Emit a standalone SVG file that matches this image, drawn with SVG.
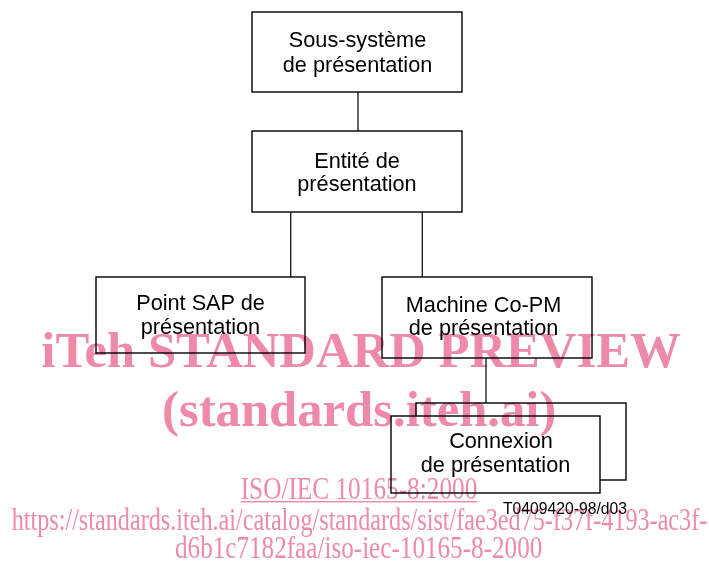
<svg xmlns="http://www.w3.org/2000/svg" width="709" height="563" viewBox="0 0 709 563">
  <style>
    .box { fill: #ffffff; stroke: #000000; stroke-width: 1.4; }
    .lbl { font-family: "Liberation Sans", Arial, sans-serif; font-size: 21.7px; fill: #000000; text-anchor: middle; }
    .ref { font-family: "Liberation Sans", Arial, sans-serif; font-size: 15.7px; fill: #000000; }
    .link { stroke: #222222; stroke-width: 1.4; fill: none; }
    .wm { mix-blend-mode: multiply; fill: #ee8aa8; font-family: "Liberation Serif", "Times New Roman", serif; }
    .wm-big { font-weight: bold; font-size: 50.7px; text-anchor: middle; }
    .wm-small { font-size: 31px; }
  </style>

  <rect x="0" y="0" width="709" height="563" fill="#ffffff"/>

  <!-- connectors -->
  <g id="connectors">
    <line class="link" x1="358" y1="92" x2="358" y2="131"/>
    <line class="link" x1="290.7" y1="212" x2="290.7" y2="277"/>
    <line class="link" x1="422.3" y1="212" x2="422.3" y2="277"/>
    <line class="link" x1="486" y1="358" x2="486" y2="416"/>
  </g>

  <g id="sous-systeme">
    <rect class="box" x="252" y="12" width="210" height="80"/>
    <text class="lbl" x="357.5" y="47">Sous-système</text>
    <text class="lbl" x="357.5" y="72">de présentation</text>
  </g>

  <g id="entite">
    <rect class="box" x="252" y="131" width="210" height="81"/>
    <text class="lbl" x="357" y="168">Entité de</text>
    <text class="lbl" x="357" y="191">présentation</text>
  </g>

  <g id="point-sap">
    <rect class="box" x="96" y="277" width="209" height="76"/>
    <text class="lbl" x="200.5" y="309.5">Point SAP de</text>
    <text class="lbl" x="200.5" y="333.5">présentation</text>
  </g>

  <g id="machine-copm">
    <rect class="box" x="382" y="277" width="210" height="81"/>
    <text class="lbl" x="483.5" y="311.7">Machine Co-PM</text>
    <text class="lbl" x="483.5" y="335">de présentation</text>
  </g>

  <g id="connexion">
    <rect class="box" x="416" y="403" width="210" height="77"/>
    <rect class="box" x="391" y="416" width="209" height="77"/>
    <text class="lbl" x="501" y="448.3">Connexion</text>
    <text class="lbl" x="495.5" y="471.7">de présentation</text>
  </g>

  <text class="ref" x="503" y="514" textLength="124" lengthAdjust="spacingAndGlyphs">T0409420-98/d03</text>

  <!-- publisher stamp -->
  <g class="wm">
    <text class="wm-big" x="361" y="367">iTeh STANDARD PREVIEW</text>
    <text class="wm-big" x="359.2" y="426">(standards.iteh.ai)</text>
    <text class="wm-small" x="240.7" y="499.3" textLength="236.6" lengthAdjust="spacingAndGlyphs">ISO/IEC 10165-8:2000</text>
    <rect x="240.7" y="501" width="236.6" height="1.4"/>
    <text class="wm-small" x="11.7" y="530" textLength="695.6" lengthAdjust="spacingAndGlyphs">https://standards.iteh.ai/catalog/standards/sist/fae3ed75-f37f-4193-ac3f-</text>
    <text class="wm-small" x="175" y="558.3" textLength="367.3" lengthAdjust="spacingAndGlyphs">d6b1c7182faa/iso-iec-10165-8-2000</text>
  </g>
</svg>
